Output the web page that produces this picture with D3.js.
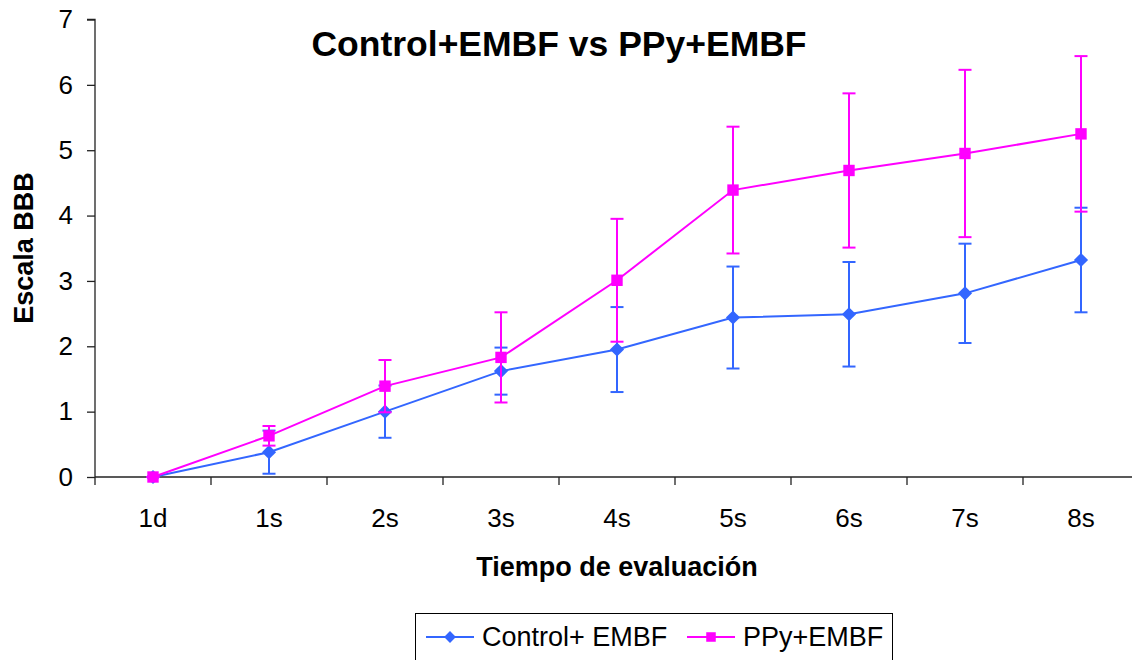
<!DOCTYPE html>
<html>
<head>
<meta charset="utf-8">
<script src="https://cdn.jsdelivr.net/npm/d3@7"></script>
<style>
  html, body { margin: 0; padding: 0; background: #fff; }
  svg { display: block; font-family: "Liberation Sans", Arial, sans-serif; }
</style>
</head>
<body>
<svg id="chart" width="1132" height="660"></svg>
<script>
// categories and series
var categories = ['1d', '1s', '2s', '3s', '4s', '5s', '6s', '7s', '8s'];
var controlMean = [0, 0.38, 1.0, 1.62, 1.95, 2.44, 2.49, 2.81, 3.32];
var controlErr  = [0, 0.33, 0.40, 0.36, 0.65, 0.78, 0.80, 0.76, 0.80];
var ppyMean     = [0, 0.63, 1.39, 1.83, 3.01, 4.39, 4.69, 4.95, 5.25];
var ppyErr      = [0, 0.15, 0.40, 0.69, 0.94, 0.97, 1.18, 1.28, 1.19];
var yTicks = [0, 1, 2, 3, 4, 5, 6, 7];
var seriesNames = ['Control+ EMBF', 'PPy+EMBF'];

(function(){
  var svg = d3.select('#chart');

  var plot = { left: 95, right: 1139, top: 19.5, bottom: 477 };

  var x = d3.scaleBand()
    .domain(categories)
    .range([plot.left, plot.right]);

  var y = d3.scaleLinear()
    .domain([0, 7])
    .range([plot.bottom, plot.top]);

  // excel style diamond = square turned 45 degrees
  var series = [
    { name: seriesNames[0], mean: controlMean, err: controlErr, color: '#3366ff', shape: d3.symbolSquare, size: 100, rot: 45 },
    { name: seriesNames[1], mean: ppyMean, err: ppyErr, color: '#ff00ff', shape: d3.symbolSquare, size: 130, rot: 0 }
  ];

  // y axis
  var yAxis = svg.append('g')
    .attr('transform', 'translate(' + plot.left + ',0)')
    .call(d3.axisLeft(y).tickValues(yTicks).tickSize(8).tickPadding(14).tickFormat(d3.format('d')));
  yAxis.selectAll('text')
    .attr('font-size', 26)
    .attr('font-family', '"Liberation Sans", Arial, sans-serif')
    .attr('fill', '#000');
  yAxis.selectAll('line, path').attr('stroke', '#222').attr('stroke-width', 1.3);
  yAxis.select('.domain').attr('d', 'M-8,' + plot.top + 'H0V' + plot.bottom);

  // x axis: line, ticks at band edges, labels at centres
  var xAxis = svg.append('g');
  xAxis.append('line')
    .attr('x1', plot.left).attr('x2', plot.right)
    .attr('y1', plot.bottom).attr('y2', plot.bottom)
    .attr('stroke', '#222').attr('stroke-width', 1.3);
  var edges = categories.map(function(c) { return x(c); }).concat([plot.right]);
  xAxis.selectAll('line.tick')
    .data(edges)
    .enter()
    .append('line')
    .attr('class', 'tick')
    .attr('x1', function(d) { return d; })
    .attr('x2', function(d) { return d; })
    .attr('y1', plot.bottom)
    .attr('y2', plot.bottom + 8)
    .attr('stroke', '#222').attr('stroke-width', 1.3);
  xAxis.selectAll('text')
    .data(categories)
    .enter()
    .append('text')
    .attr('x', function(d) { return x(d) + x.bandwidth() / 2; })
    .attr('y', 527)
    .attr('text-anchor', 'middle')
    .attr('font-size', 26)
    .text(function(d) { return d; });

  // series: error bars, line, markers
  var line = d3.line()
    .x(function(d, i) { return x(categories[i]) + x.bandwidth() / 2; })
    .y(function(d) { return y(d); });

  series.forEach(function(s) {
    var g = svg.append('g');
    var cx = function(d, i) { return x(categories[i]) + x.bandwidth() / 2; };

    var bars = g.selectAll('g.err')
      .data(s.mean)
      .enter()
      .append('g')
      .attr('class', 'err')
      .attr('stroke', s.color)
      .attr('stroke-width', 2);
    bars.append('line')
      .attr('x1', cx).attr('x2', cx)
      .attr('y1', function(d, i) { return y(d + s.err[i]); })
      .attr('y2', function(d, i) { return y(d - s.err[i]); });
    [1, -1].forEach(function(sign) {
      bars.append('line')
        .attr('x1', function(d, i) { return cx(d, i) - 6.5; })
        .attr('x2', function(d, i) { return cx(d, i) + 6.5; })
        .attr('y1', function(d, i) { return y(d + sign * s.err[i]); })
        .attr('y2', function(d, i) { return y(d + sign * s.err[i]); });
    });

    g.append('path')
      .datum(s.mean)
      .attr('d', line)
      .attr('fill', 'none')
      .attr('stroke', s.color)
      .attr('stroke-width', 2);

    g.selectAll('path.mark')
      .data(s.mean)
      .enter()
      .append('path')
      .attr('class', 'mark')
      .attr('d', d3.symbol().type(s.shape).size(s.size))
      .attr('transform', function(d, i) {
        return 'translate(' + cx(d, i) + ',' + y(d) + ') rotate(' + s.rot + ')';
      })
      .attr('fill', s.color);
  });

  // titles
  svg.append('text')
    .attr('x', 559).attr('y', 56)
    .attr('text-anchor', 'middle')
    .attr('font-size', 35.5)
    .attr('font-weight', 'bold')
    .text('Control+EMBF vs PPy+EMBF');

  svg.append('text')
    .attr('x', 617).attr('y', 576)
    .attr('text-anchor', 'middle')
    .attr('font-size', 27)
    .attr('font-weight', 'bold')
    .text('Tiempo de evaluación');

  svg.append('text')
    .attr('transform', 'translate(33,248) rotate(-90)')
    .attr('text-anchor', 'middle')
    .attr('font-size', 27)
    .attr('font-weight', 'bold')
    .text('Escala BBB');

  // legend
  var legend = svg.append('g');
  legend.append('rect')
    .attr('x', 415.5).attr('y', 613.5)
    .attr('width', 477).attr('height', 60)
    .attr('fill', '#fff')
    .attr('stroke', '#000').attr('stroke-width', 1);
  var legendX = [426, 687];
  series.forEach(function(s, i) {
    var lx = legendX[i];
    legend.append('line')
      .attr('x1', lx).attr('x2', lx + 48)
      .attr('y1', 637).attr('y2', 637)
      .attr('stroke', s.color).attr('stroke-width', 2);
    legend.append('path')
      .attr('d', d3.symbol().type(s.shape).size(s.size * 0.7))
      .attr('transform', 'translate(' + (lx + 24) + ',637) rotate(' + s.rot + ')')
      .attr('fill', s.color);
    legend.append('text')
      .attr('x', lx + 56).attr('y', 646)
      .attr('font-size', 27)
      .text(s.name);
  });
})();
</script>
</body>
</html>
